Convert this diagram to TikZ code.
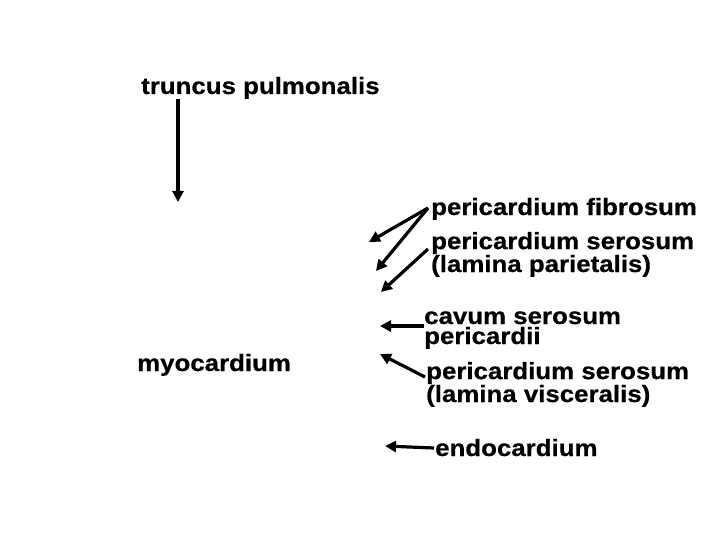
\documentclass[tikz,border=0pt]{standalone}
\usepackage{fontspec}
\newfontfamily\lab{Liberation Sans}[FakeStretch=1.1,FakeBold=0.6]
\usetikzlibrary{arrows.meta}
\begin{document}
\begin{tikzpicture}[x=1pt,y=-1pt,
  lbl/.style={font=\lab\bfseries\fontsize{23.5}{20}\selectfont,inner sep=0pt,anchor=base west,align=left},
  arr/.style={line width=3.2pt,-{Triangle[length=11pt,width=11pt]}}]
\useasboundingbox[fill=white] (0,0) rectangle (720,540);
\node[lbl] (trunc) at (141,94) {truncus pulmonalis};
\node[lbl] (fib) at (431,215) {pericardium fibrosum};
\node[lbl] (par) at (431,272) {pericardium serosum\\(lamina parietalis)};
\node[lbl] (cav) at (424,344) {cavum serosum\\pericardii};
\node[lbl] (vis) at (426,402) {pericardium serosum\\(lamina visceralis)};
\node[lbl] (endo) at (435,456) {endocardium};
\node[lbl] (myo) at (137,371) {myocardium};
\coordinate (t0) at (178,99);   \coordinate (t1) at (178,202);
\coordinate (f0) at (428,208);  \coordinate (f1) at (369,242); \coordinate (f2) at (376,271);
\coordinate (p0) at (428,249);  \coordinate (p1) at (381,292);
\coordinate (c0) at (424,326);  \coordinate (c1) at (380,326);
\coordinate (v0) at (425,377);  \coordinate (v1) at (380,354);
\coordinate (e0) at (434,448);  \coordinate (e1) at (385,446);
\draw[arr] (t0) -- (t1);
\draw[arr] (f0) -- (f1);
\draw[arr] (f0) -- (f2);
\draw[arr] (p0) -- (p1);
\draw[arr] (c0) -- (c1);
\draw[arr] (v0) -- (v1);
\draw[arr] (e0) -- (e1);
\end{tikzpicture}
\end{document}
